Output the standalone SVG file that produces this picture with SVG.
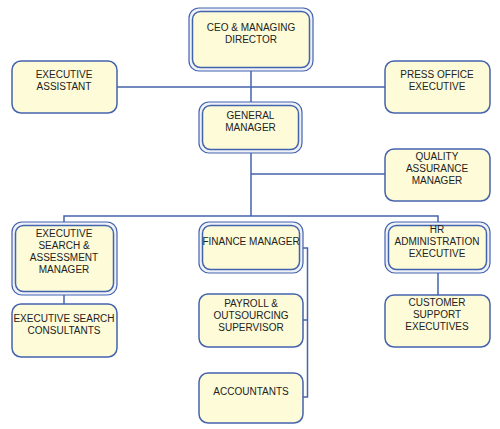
<svg xmlns="http://www.w3.org/2000/svg" width="500" height="429" viewBox="0 0 500 429">
<style>
.bg{fill:#ffffff}
.box{fill:#fdfbd8;stroke:#4463ad;stroke-width:1.5}
.outer{fill:#eef1f8;stroke:#4463ad;stroke-width:1.2}
.inner{fill:#fdfbd8;stroke:#4463ad;stroke-width:1.5}
.line{fill:none;stroke:#4463ad;stroke-width:1.5}
text{font-family:"Liberation Sans",Arial,sans-serif;font-size:10px;fill:#222222;text-anchor:middle}
</style>
<rect class="bg" x="0" y="0" width="500" height="429"/>
<g id="connectors">
<path class="line" d="M251 71 V216"/>
<path class="line" d="M117 87 H385"/>
<path class="line" d="M251 174 H385"/>
<path class="line" d="M64 222 V216 H438 V222"/>
<path class="line" d="M64 295 V304"/>
<path class="line" d="M438 273 V295"/>
<path class="line" d="M303 248 H307.5 V397 H303"/>
<path class="line" d="M303 320 H307.5"/>
</g>
<g id="ceo">
<rect class="outer" x="189" y="8" width="124" height="63" rx="10"/>
<rect class="inner" x="192.5" y="11.5" width="117" height="56" rx="8"/>
<text x="251" y="31">CEO &amp; MANAGING</text>
<text x="251" y="43">DIRECTOR</text>
</g>
<g id="exec-assistant">
<rect class="box" x="12" y="61" width="105" height="52" rx="9"/>
<text x="64" y="78">EXECUTIVE</text>
<text x="64" y="90">ASSISTANT</text>
</g>
<g id="press-office">
<rect class="box" x="385" y="61" width="105" height="52" rx="9"/>
<text x="437" y="78">PRESS OFFICE</text>
<text x="437" y="90">EXECUTIVE</text>
</g>
<g id="general-manager">
<rect class="outer" x="199" y="102" width="103" height="51" rx="10"/>
<rect class="inner" x="202.5" y="105.5" width="96" height="44" rx="8"/>
<text x="250.5" y="119">GENERAL</text>
<text x="250.5" y="131">MANAGER</text>
</g>
<g id="quality-assurance">
<rect class="box" x="385" y="149" width="105" height="52" rx="9"/>
<text x="437" y="160">QUALITY</text>
<text x="437" y="172">ASSURANCE</text>
<text x="437" y="184">MANAGER</text>
</g>
<g id="exec-search-manager">
<rect class="outer" x="12" y="222" width="105" height="73" rx="10"/>
<rect class="inner" x="15.5" y="225.5" width="98" height="66" rx="8"/>
<text x="64" y="237">EXECUTIVE</text>
<text x="64" y="249">SEARCH &amp;</text>
<text x="64" y="261">ASSESSMENT</text>
<text x="64" y="273">MANAGER</text>
</g>
<g id="finance-manager">
<rect class="outer" x="199" y="222" width="104" height="51" rx="10"/>
<rect class="inner" x="202.5" y="225.5" width="97" height="44" rx="8"/>
<text x="251" y="245">FINANCE MANAGER</text>
</g>
<g id="hr-admin">
<rect class="outer" x="385" y="222" width="105" height="51" rx="10"/>
<rect class="inner" x="388.5" y="225.5" width="98" height="44" rx="8"/>
<text x="437" y="233">HR</text>
<text x="437" y="245">ADMINISTRATION</text>
<text x="437" y="257">EXECUTIVE</text>
</g>
<g id="exec-search-consultants">
<rect class="box" x="12" y="304" width="105" height="53" rx="9"/>
<text x="64" y="322">EXECUTIVE SEARCH</text>
<text x="64" y="334">CONSULTANTS</text>
</g>
<g id="payroll">
<rect class="box" x="199" y="294" width="104" height="53" rx="9"/>
<text x="251" y="307">PAYROLL &amp;</text>
<text x="251" y="319">OUTSOURCING</text>
<text x="251" y="331">SUPERVISOR</text>
</g>
<g id="accountants">
<rect class="box" x="199" y="373" width="104" height="50" rx="9"/>
<text x="251" y="395">ACCOUNTANTS</text>
</g>
<g id="customer-support">
<rect class="box" x="385" y="295" width="105" height="52" rx="9"/>
<text x="437" y="306">CUSTOMER</text>
<text x="437" y="318">SUPPORT</text>
<text x="437" y="330">EXECUTIVES</text>
</g>
</svg>
